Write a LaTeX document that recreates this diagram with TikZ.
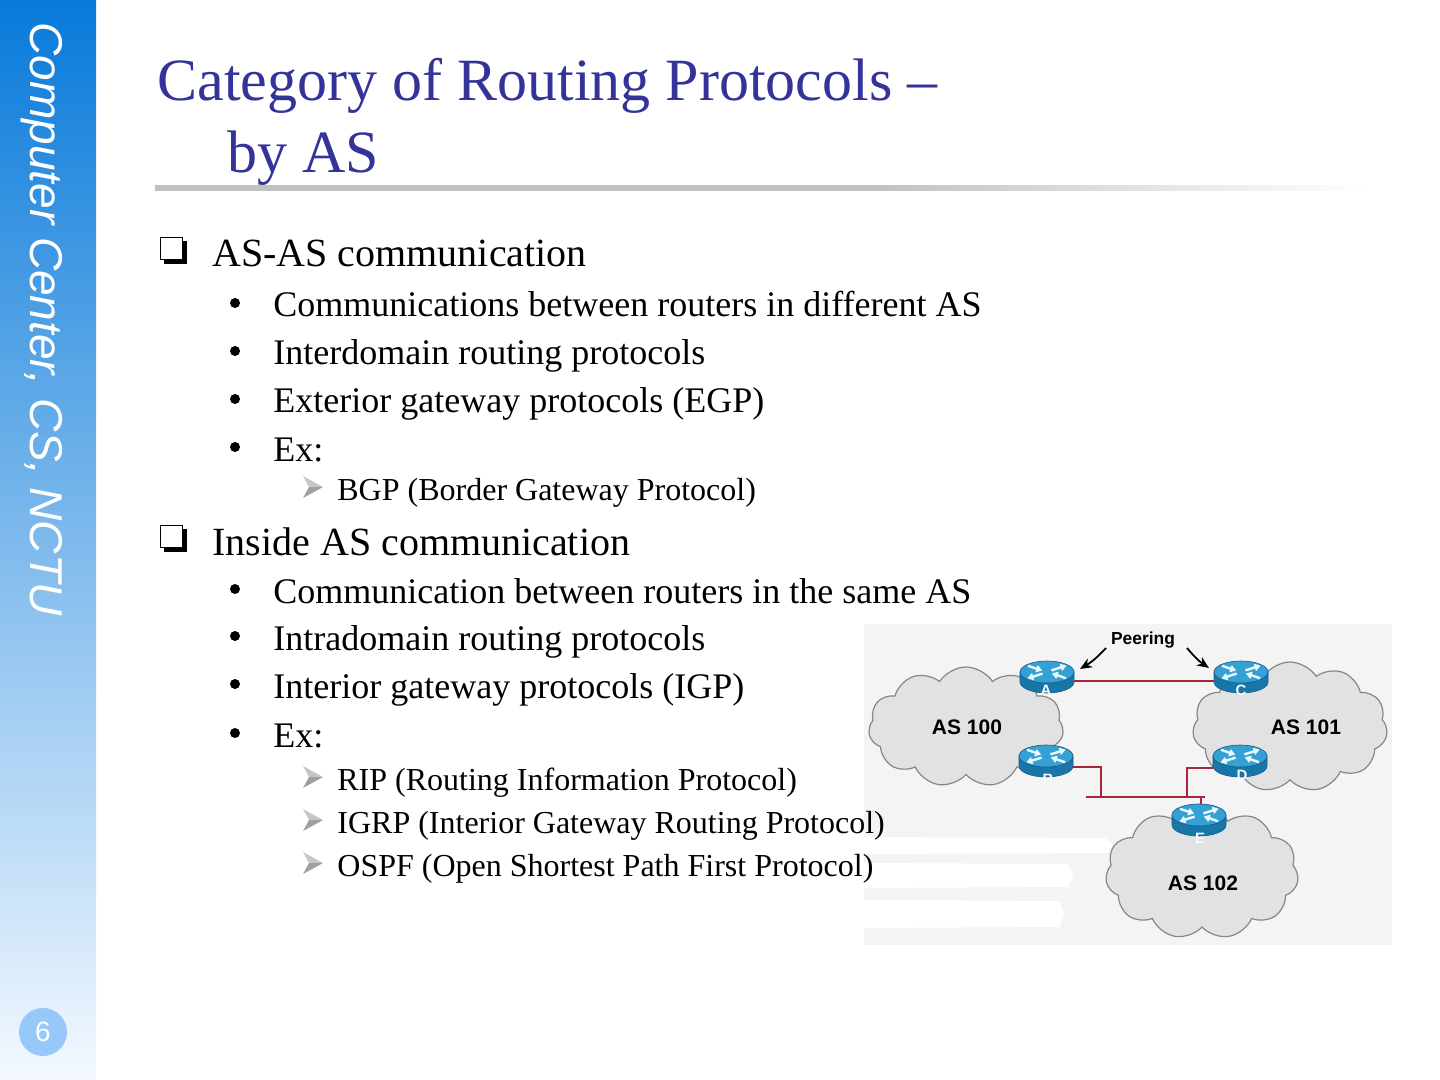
\documentclass[tikz,border=0pt]{standalone}
\usepackage{fontspec}
\setmainfont{Liberation Serif}
\newfontfamily\sansf{Liberation Sans}
\usetikzlibrary{shapes.symbols,arrows.meta}
\definecolor{titleblue}{RGB}{51,51,153}
\definecolor{sidetop}{RGB}{8,122,218}
\definecolor{sidebot}{RGB}{244,249,255}
\definecolor{pagecirc}{RGB}{150,200,250}
\definecolor{imgbg}{RGB}{244,244,244}
\definecolor{cloudfill}{RGB}{226,226,226}
\definecolor{cloudline}{RGB}{135,135,135}
\definecolor{linkred}{RGB}{165,40,60}
\definecolor{rbody}{RGB}{24,118,168}
\definecolor{rtop}{RGB}{52,160,212}
\definecolor{redge}{RGB}{20,90,135}
\definecolor{ruleg}{RGB}{192,192,192}
\pgfdeclarehorizontalshading{rulefade}{100bp}{color(0bp)=(ruleg); color(25bp)=(ruleg); color(54bp)=(ruleg); color(75bp)=(white); color(100bp)=(white)}
\tikzset{
  lvlone/.style={anchor=base west, inner sep=0pt, font=\fontsize{20}{24}\selectfont},
  lvltwo/.style={anchor=base west, inner sep=0pt, font=\fontsize{18}{22}\selectfont},
  lvlthree/.style={anchor=base west, inner sep=0pt, font=\fontsize{16}{19}\selectfont},
  titletext/.style={anchor=base west, inner sep=0pt, text=titleblue, font=\fontsize{30}{36}\selectfont},
  link/.style={draw=linkred, line width=1.4pt},
  ascloud/.style={cloud, cloud puffs=11, cloud puff arc=115, draw=cloudline, fill=cloudfill, line width=0.6pt, inner sep=0pt},
  aslabel/.style={inner sep=0pt, font=\sansf\bfseries\fontsize{10.5}{12}\selectfont},
  rlabel/.style={inner sep=0pt, text=white!95!gray, font=\sansf\bfseries\fontsize{7.5}{9}\selectfont},
  rbox/.style={minimum width=27pt, minimum height=16pt, inner sep=0pt},
  peerarrow/.style={draw=black, line width=0.9pt, -{Stealth[length=6pt,width=5pt]}},
  xarrow/.style={draw=white!92!cyan, line width=1.2pt, -{Triangle[length=3pt,width=3.6pt]}},
  router/.pic={
    \fill[rbody, draw=redge, line width=0.3pt] (-13.5pt,2.5pt) -- (-13.5pt,-2.5pt)
      arc[start angle=180, end angle=360, x radius=13.5pt, y radius=5.5pt] -- (13.5pt,2.5pt) -- cycle;
    \fill[rtop, draw=redge, line width=0.3pt] (0pt,2.5pt) ellipse[x radius=13.5pt, y radius=5.5pt];
    \draw[xarrow] (-9.5pt,5.6pt) -- (-2.4pt,3.2pt);
    \draw[xarrow] (9.5pt,-0.6pt) -- (2.4pt,1.8pt);
    \draw[xarrow] (2.2pt,3.3pt) -- (9.8pt,5.7pt);
    \draw[xarrow] (-2.2pt,1.7pt) -- (-9.8pt,-0.7pt);
  }
}
\newcommand\boxmark[1]{%
  \fill[black] (164,#1-26) rectangle (187,#1-3);
  \filldraw[fill=white, draw=black, line width=0.8pt] (160.5,#1-29.5) rectangle (182.5,#1-7.5);}
\newcommand\dotmark[1]{\fill[black] (235,#1-14) circle[radius=2.5pt];}
\newcommand\arrowmark[1]{%
  \fill[gray!45] (303,#1-24) -- (323,#1-13) -- (309,#1-13) -- cycle;
  \fill[gray!75] (303,#1-2) -- (323,#1-13) -- (309,#1-13) -- cycle;}
\begin{document}
\begin{tikzpicture}[x=0.5pt, y=-0.5pt]
\useasboundingbox (0,0) rectangle (1440,1080);
% sidebar
\shade[top color=sidetop, bottom color=sidebot] (0,0) rectangle (96,1080);
\node[rotate=-90, anchor=base west, inner sep=0pt, text=white,
      font=\sansf\itshape\fontsize{23}{27}\selectfont] (side) at (30,22) {Computer Center, CS, NCTU};
\node[circle, fill=pagecirc, minimum size=24pt, inner sep=0pt, text=white,
      font=\sansf\fontsize{14}{16}\selectfont] (pg) at (43,1032) {6};
% title
\node[titletext] (t1) at (157,101) {Category of Routing Protocols \textendash};
\node[titletext] (t2) at (227,173) {by AS};
\shade[shading=rulefade] (155,186) rectangle (1370,191);
% network picture
\fill[imgbg] (864,624) rectangle (1392,945);
\fill[white] (864,837) -- (1105,838) -- (1113,845) -- (1108,853) -- (864,854) -- cycle;
\fill[white] (864,863) -- (1068,864) -- (1074,875) -- (1068,887) -- (864,888) -- cycle;
\fill[white] (864,900) -- (1060,901) -- (1064,914) -- (1060,927) -- (864,928) -- cycle;
\node[ascloud, aspect=1.6, minimum width=97.5pt, minimum height=60pt] (c100) at (966,727) {};
\node[ascloud, aspect=1.5, minimum width=97.5pt, minimum height=65pt] (c101) at (1290,727) {};
\node[ascloud, aspect=1.45, minimum width=96.5pt, minimum height=66pt] (c102) at (1202,873) {};
\node[aslabel] (l100) at (967,727) {AS 100};
\node[aslabel] (l101) at (1306,727) {AS 101};
\node[aslabel] (l102) at (1203,883) {AS 102};
% routers
\node[rbox] (A) at (1047,677) {};
\node[rbox] (C) at (1241,677) {};
\node[rbox] (B) at (1046,761) {};
\node[rbox] (D) at (1240,761) {};
\node[rbox] (E) at (1199,820) {};
% links
\coordinate (busL) at (1086,797);
\coordinate (busR) at (1205,797);
\coordinate (bj) at (1101,797);
\coordinate (dj) at (1187,797);
\coordinate (ej) at (1201,797);
\draw[link] ([yshift=-2pt]A.east) -- ([yshift=-2pt]C.west);
\draw[link] (busL) -- (busR);
\draw[link] ([yshift=-3pt]B.east) -| (bj);
\draw[link] ([yshift=-3.5pt]D.west) -| (dj);
\draw[link] (ej) -- (ej |- E.north);
\pic at (A) {router};
\pic at (C) {router};
\pic at (B) {router};
\pic at (D) {router};
\pic at (E) {router};
\node[rlabel] (la) at (1046,690) {A};
\node[rlabel] (lc) at (1241,690) {C};
\node[rlabel] (lb) at (1048,779) {B};
\node[rlabel] (ld) at (1242,775) {D};
\node[rlabel] (le) at (1200,838) {E};
\node[inner sep=0pt, font=\sansf\bfseries\fontsize{8.7}{10}\selectfont] (peer) at (1143,640) {Peering};
\coordinate (pa1) at (1106,648);
\coordinate (pa2) at (1080,669);
\coordinate (pc1) at (1187,648);
\coordinate (pc2) at (1209,668);
\draw[peerarrow] (pa1) to[bend left=8] (pa2);
\draw[peerarrow] (pc1) to[bend right=8] (pc2);
% bullets
\boxmark{267}
\node[lvlone] (s1) at (212,267) {AS-AS communication};
\dotmark{317}\node[lvltwo] (s11) at (273,317) {Communications between routers in different AS};
\dotmark{365}\node[lvltwo] (s12) at (273,365) {Interdomain routing protocols};
\dotmark{413}\node[lvltwo] (s13) at (273,413) {Exterior gateway protocols (EGP)};
\dotmark{461}\node[lvltwo] (s14) at (273,461) {Ex:};
\arrowmark{500}\node[lvlthree] (s141) at (337,500) {BGP (Border Gateway Protocol)};
\boxmark{555}
\node[lvlone] (s2) at (212,555) {Inside AS communication};
\dotmark{603}\node[lvltwo] (s21) at (273,603) {Communication between routers in the same AS};
\dotmark{650}\node[lvltwo] (s22) at (273,650) {Intradomain routing protocols};
\dotmark{698}\node[lvltwo] (s23) at (273,698) {Interior gateway protocols (IGP)};
\dotmark{747}\node[lvltwo] (s24) at (273,747) {Ex:};
\arrowmark{790}\node[lvlthree] (s241) at (337,790) {RIP (Routing Information Protocol)};
\arrowmark{833}\node[lvlthree] (s242) at (337,833) {IGRP (Interior Gateway Routing Protocol)};
\arrowmark{876}\node[lvlthree] (s243) at (337,876) {OSPF (Open Shortest Path First Protocol)};
\end{tikzpicture}
\end{document}
